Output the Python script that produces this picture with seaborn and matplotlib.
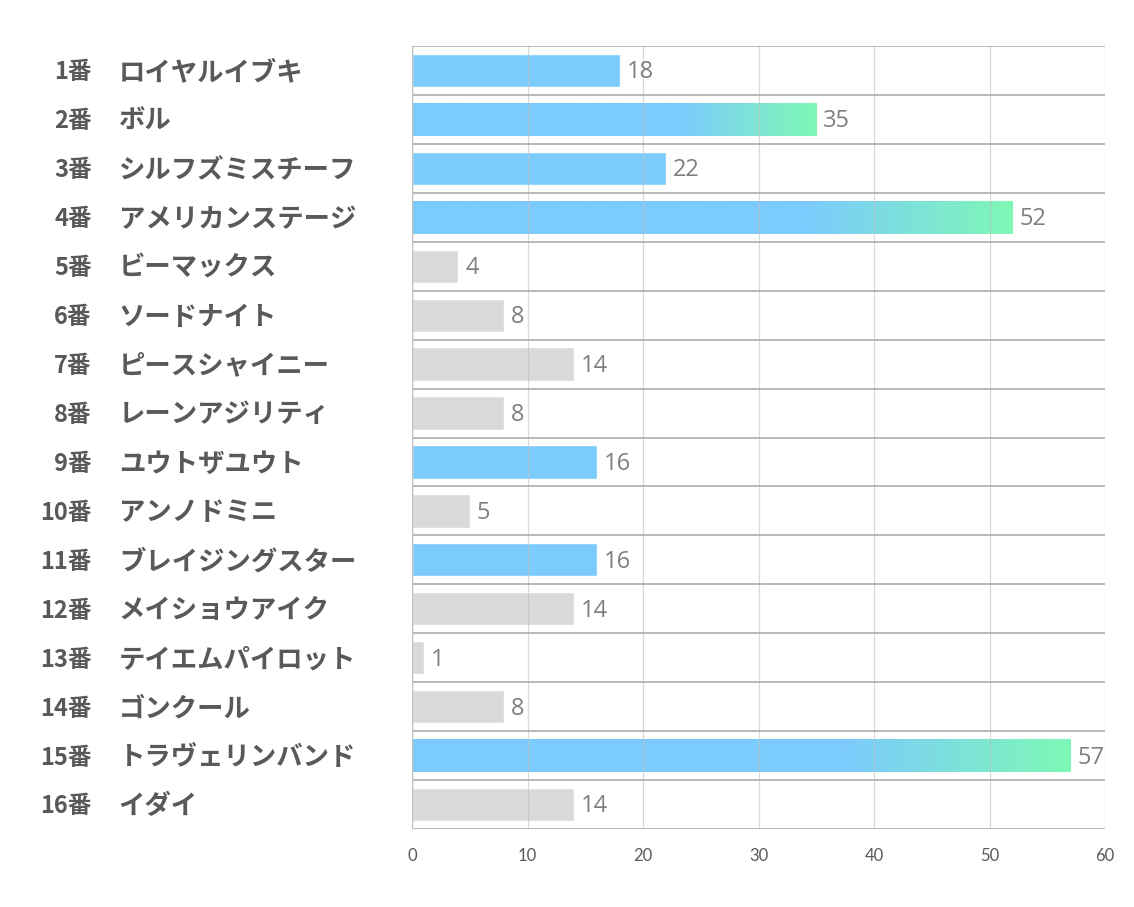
import numpy as np
import pandas as pd
import matplotlib
matplotlib.use("Agg")
import matplotlib.pyplot as plt
import seaborn as sns
from matplotlib.colors import LinearSegmentedColormap

numbers = ["1番", "2番", "3番", "4番", "5番", "6番", "7番", "8番",
           "9番", "10番", "11番", "12番", "13番", "14番", "15番", "16番"]
names = ["ロイヤルイブキ", "ボル", "シルフズミスチーフ", "アメリカンステージ", "ビーマックス",
         "ソードナイト", "ピースシャイニー", "レーンアジリティ", "ユウトザユウト", "アンノドミニ",
         "ブレイジングスター", "メイショウアイク", "テイエムパイロット", "ゴンクール",
         "トラヴェリンバンド", "イダイ"]
values = [18, 35, 22, 52, 4, 8, 14, 8, 16, 5, 16, 14, 1, 8, 57, 14]
highlight = [True, True, True, True, False, False, False, False,
             True, False, True, False, False, False, True, False]
xticks = [0, 10, 20, 30, 40, 50, 60]

BLUE = "#7ccbfd"
GREEN = "#7ef8b6"
GRAY = "#d9d9d9"

sns.set_theme(style="white")
plt.rcParams["font.family"] = ["Noto Sans CJK JP", "DejaVu Sans"]

df = pd.DataFrame({"key": [f"{n} {m}" for n, m in zip(numbers, names)],
                   "value": values})
palette = [BLUE if h else GRAY for h in highlight]

fig = plt.figure(figsize=(11.34, 9.07), dpi=100)
ax = fig.add_axes([412/1134, 1-829/907, (1105-412)/1134, (829-46)/907])

sns.barplot(data=df, y="key", x="value", hue="key", palette=palette,
            legend=False, ax=ax, width=0.68, saturation=1, zorder=2)

ax.set_xlim(0, 60)
ax.set_ylim(len(values) - 0.5, -0.5)

# gradients on long bars
cmap = LinearSegmentedColormap.from_list("bg", [BLUE, GREEN], N=256)
for p, v in zip(ax.patches, values):
    if v >= 30:
        x0, y0 = p.get_x(), p.get_y()
        w, h = p.get_width(), p.get_height()
        start = 0.66
        grad = np.linspace(0, 1, 256)
        grad = np.clip((grad - start) / (1 - start), 0, 1)
        cols = cmap(grad)
        img = ax.imshow(cols[np.newaxis, :, :], extent=[x0, x0 + w, y0 + h, y0],
                        aspect="auto", zorder=2.5, interpolation="bicubic")
        img.set_clip_path(p)

# vertical grid lines (drawn above bars, faint)
for t in xticks:
    ax.axvline(t, color="#bfbfbf", lw=0.9, alpha=0.6, zorder=3)
# horizontal row separators
for i in range(len(values) + 1):
    ax.axhline(i - 0.5, color="#a6a6a6", lw=1.1, zorder=3)

for s in ax.spines.values():
    s.set_visible(False)
ax.axvline(0, color="#bfbfbf", lw=1.0, zorder=3)

ax.set_yticks([])
ax.set_ylabel("")
ax.set_xlabel("")
ax.set_xticks(xticks)
ax.set_xticklabels([str(t) for t in xticks], fontsize=12, color="#595959",
                   family=["Lato", "DejaVu Sans"])
ax.tick_params(axis="x", length=0, pad=14)

# y labels: number + name
for i, (n, m) in enumerate(zip(numbers, names)):
    ax.text(-0.462, i + 0.04, n, transform=ax.get_yaxis_transform(), ha="right",
            va="center", fontsize=17, fontweight="bold", color="#595959")
    ax.text(-0.423, i + 0.04, m, transform=ax.get_yaxis_transform(), ha="left",
            va="center", fontsize=19, fontweight="bold", color="#595959")

# value labels
for i, v in enumerate(values):
    ax.text(v + 0.6, i + 0.04, str(v), ha="left", va="center", fontsize=17,
            color="#7f7f7f", family=["Open Sans", "DejaVu Sans"], zorder=4)

fig.savefig("out.png", dpi=100)
